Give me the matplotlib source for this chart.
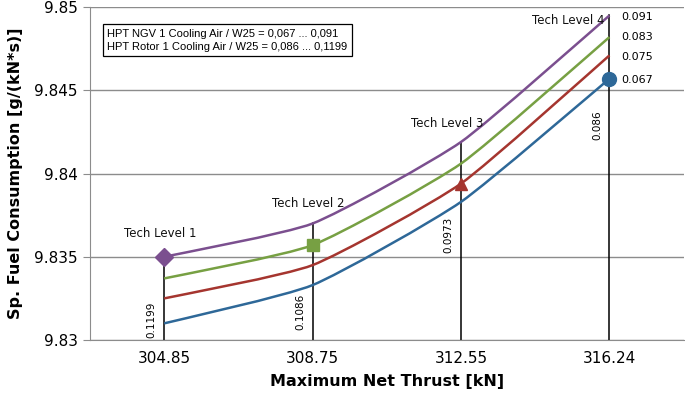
import matplotlib.pyplot as plt
import numpy as np
from matplotlib.path import Path
from matplotlib.patches import PathPatch

# net thrust categories (evenly spaced category axis)
thrust = ['304.85', '308.75', '312.55', '316.24']
tech_levels = ['Tech Level 1', 'Tech Level 2', 'Tech Level 3', 'Tech Level 4']

# NGV cooling air fraction per curve, rotor cooling air per category
ngv_labels = ['0.067', '0.075', '0.083', '0.091']
rotor_labels = ['0.1199', '0.1086', '0.0973', '0.086']

sfc_067 = [9.8310, 9.8333, 9.8383, 9.8457]
sfc_075 = [9.8325, 9.8345, 9.8394, 9.8471]
sfc_083 = [9.8337, 9.8357, 9.8406, 9.8482]
sfc_091 = [9.8350, 9.8370, 9.8419, 9.8495]

colors = ['#2e6898', '#a5352f', '#77a043', '#7b4f8f']
markers = ['o', '^', 's', 'D']
# which category carries the marker of each curve
marker_at = [3, 2, 1, 0]


def smooth_path(x, y, k=0.09):
	# Excel-like smoothed line: cubic bezier through the points, low tension
	pts = np.column_stack([x, y])
	verts = [pts[0]]
	codes = [Path.MOVETO]
	n = len(pts)
	for i in range(n - 1):
		p0 = pts[max(i - 1, 0)]
		p1 = pts[i]
		p2 = pts[i + 1]
		p3 = pts[min(i + 2, n - 1)]
		c1 = p1 + (p2 - p0) * k
		c2 = p2 - (p3 - p1) * k
		verts += [c1, c2, p2]
		codes += [Path.CURVE4] * 3
	return Path(verts, codes)


if __name__ == '__main__':
	fig = plt.figure(figsize=(6.85, 3.97), dpi=100)
	ax = fig.add_axes([0.1314, 0.1436, 0.8666, 0.8384])

	xs = np.arange(len(thrust), dtype=float)
	series = [sfc_067, sfc_075, sfc_083, sfc_091]

	# drop lines from the top curve down to the axis
	for i in range(len(thrust)):
		ax.plot([xs[i], xs[i]], [9.83, sfc_091[i]], color='black', lw=1.1, zorder=2)

	for s, c, m, k in zip(series, colors, markers, marker_at):
		path = smooth_path(xs, np.array(s))
		ax.add_patch(PathPatch(path, facecolor='none', edgecolor=c, lw=1.8, zorder=3))
		ms = 10 if m == 'o' else 9
		ax.plot(xs[k], s[k], marker=m, color=c, ms=ms, mec=c, zorder=4, ls='none')

	tl_pos = [(-0.03, 9.8364, 'center'), (-0.03, 9.8382, 'center'),
		(-0.09, 9.8430, 'center'), (-0.03, 9.8492, 'right')]
	for i, lab in enumerate(tech_levels):
		dx, yv, ha = tl_pos[i]
		ax.text(xs[i] + dx, yv, lab, ha=ha, va='center', fontsize=8.5,
			color='#111111', family='DejaVu Sans')

	rot_y = [9.8301, 9.8306, 9.8352, 9.8420]
	for i, lab in enumerate(rotor_labels):
		ax.text(xs[i] - 0.05, rot_y[i], lab, rotation=90, ha='right', va='bottom',
			fontsize=7.5, family='DejaVu Sans')

	lab_pos = [9.8456, 9.8470, 9.8482, 9.8494]
	for lab, yv in zip(ngv_labels, lab_pos):
		ax.text(xs[-1] + 0.08, yv, lab, ha='left', va='center', fontsize=8, family='DejaVu Sans')

	ax.text(0.029, 0.9, 'HPT NGV 1 Cooling Air / W25 = 0,067 ... 0,091\n'
		'HPT Rotor 1 Cooling Air / W25 = 0,086 ... 0,1199',
		transform=ax.transAxes, ha='left', va='center', fontsize=8,
		family='Liberation Sans', linespacing=1.4,
		bbox=dict(boxstyle='square,pad=0.4', fc='white', ec='black', lw=0.9))

	ax.set_xlim(-0.5, 3.5)
	ax.set_ylim(9.83, 9.85)
	ax.set_yticks([9.83, 9.835, 9.84, 9.845, 9.85])
	ax.set_yticklabels(['9.83', '9.835', '9.84', '9.845', '9.85'])
	ax.set_xticks(xs)
	ax.set_xticklabels(thrust)
	ax.grid(axis='y', color='#8c8c8c', lw=1.0)
	ax.set_axisbelow(True)
	for side in ['top', 'right']:
		ax.spines[side].set_visible(False)
	ax.spines['left'].set_color('#8c8c8c')
	ax.spines['bottom'].set_color('#8c8c8c')
	ax.tick_params(axis='y', length=5, color='#8c8c8c', labelsize=11, pad=4)
	ax.tick_params(axis='x', length=0, labelsize=11, pad=8)

	ax.set_xlabel('Maximum Net Thrust [kN]', fontsize=11.5, fontweight='bold', labelpad=6)
	ax.set_ylabel('Sp. Fuel Consumption [g/(kN*s)]', fontsize=11.5, fontweight='bold', labelpad=8)

	plt.savefig('out.png', dpi=100)
